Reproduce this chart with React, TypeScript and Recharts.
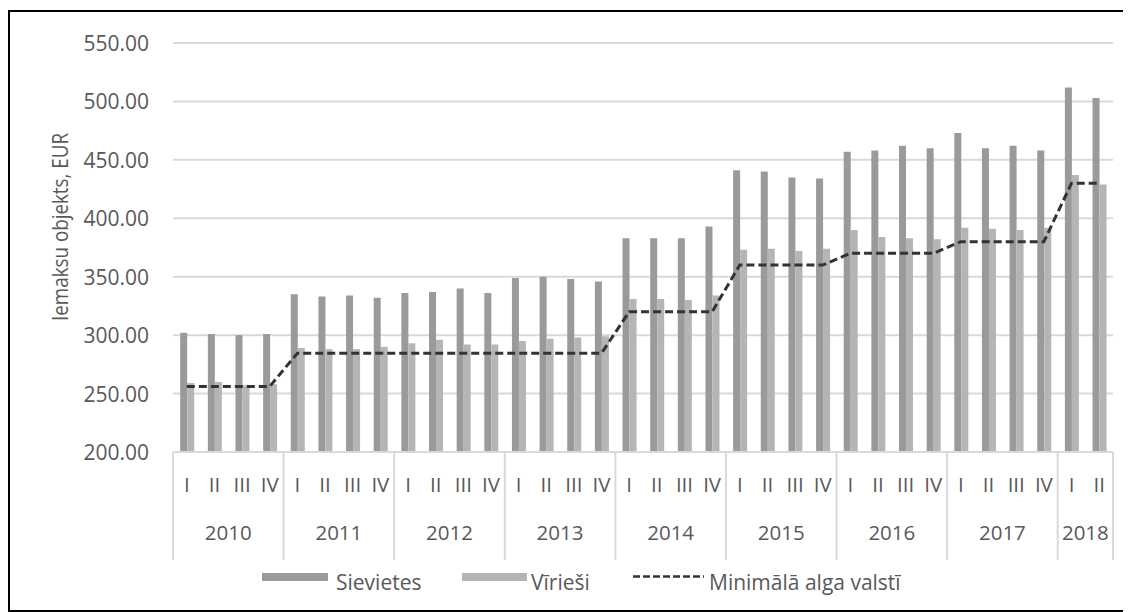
import React from 'react';
import { ComposedChart, Bar, Line, XAxis, YAxis, CartesianGrid, Legend } from 'recharts';

const years = ['2010', '2011', '2012', '2013', '2014', '2015', '2016', '2017', '2018'];
const quartersPerYear = [4, 4, 4, 4, 4, 4, 4, 4, 2];
const quarterLabels = ['I', 'II', 'III', 'IV'];

const sievietes = [
  302, 301, 300, 301,
  335, 333, 334, 332,
  336, 337, 340, 336,
  349, 350, 348, 346,
  383, 383, 383, 393,
  441, 440, 435, 434,
  457, 458, 462, 460,
  473, 460, 462, 458,
  512, 503,
];
const viriesi = [
  259, 260, 257, 258,
  289, 288, 288, 290,
  293, 296, 292, 292,
  295, 297, 298, 299,
  331, 331, 330, 334,
  373, 374, 372, 374,
  390, 384, 383, 382,
  392, 391, 390, 392,
  437, 429,
];
const minAlga = [
  256.12, 256.12, 256.12, 256.12,
  284.57, 284.57, 284.57, 284.57,
  284.57, 284.57, 284.57, 284.57,
  284.57, 284.57, 284.57, 284.57,
  320, 320, 320, 320,
  360, 360, 360, 360,
  370, 370, 370, 370,
  380, 380, 380, 380,
  430, 430,
];
const yTicks = [200, 250, 300, 350, 400, 450, 500, 550];

const categories: { year: string; quarter: string; pos: number; groupSize: number }[] = [];
years.forEach((y, yi) => {
  for (let q = 0; q < quartersPerYear[yi]; q++) {
    categories.push({ year: y, quarter: quarterLabels[q], pos: q, groupSize: quartersPerYear[yi] });
  }
});

const data = categories.map((c, i) => ({
  name: c.year + ' ' + c.quarter,
  sievietes: sievietes[i],
  viriesi: viriesi[i],
  minAlga: minAlga[i],
}));

const W = 1131;
const H = 612;
const PLOT_LEFT = 173;
const PLOT_RIGHT = 1113;
const PLOT_TOP = 43;
const PLOT_BOTTOM = 452;
const BAND = (PLOT_RIGHT - PLOT_LEFT) / data.length;
const FONT = '"Open Sans", sans-serif';
const TEXT = '#595959';
const GRID = '#d9d9d9';
const DARK = '#9a9a9a';
const LIGHT = '#b5b5b5';

const XTick = (props: any) => {
  const { x, payload } = props;
  const i = payload.index;
  const c = categories[i];
  const items: React.ReactNode[] = [];
  items.push(
    <text key="q" x={x} y={484} textAnchor="middle" dominantBaseline="central" fill={TEXT} fontSize={20.5} fontFamily={FONT}>
      {c.quarter}
    </text>
  );
  if (c.pos === 0) {
    const left = x - BAND / 2;
    items.push(<line key="l" x1={left} x2={left} y1={PLOT_BOTTOM} y2={560} stroke={GRID} strokeWidth={2} />);
    items.push(
      <text key="y" x={left + (c.groupSize * BAND) / 2} y={532} textAnchor="middle" dominantBaseline="central" fill={TEXT} fontSize={20.5} fontFamily={FONT}>
        {c.year}
      </text>
    );
  }
  if (i === categories.length - 1) {
    const right = x + BAND / 2;
    items.push(<line key="r" x1={right} x2={right} y1={PLOT_BOTTOM} y2={560} stroke={GRID} strokeWidth={2} />);
  }
  return <g>{items}</g>;
};

const YTick = (props: any) => {
  const { y, payload } = props;
  return (
    <text x={149} y={y} textAnchor="end" dominantBaseline="central" fill={TEXT} fontSize={21} fontFamily={FONT}>
      {Number(payload.value).toFixed(2)}
    </text>
  );
};

const LegendContent = () => (
  <div style={{ position: 'relative', height: 40, fontFamily: FONT, fontSize: 21, color: TEXT }}>
    <div style={{ position: 'absolute', left: 262, top: 13, width: 66, height: 8, background: DARK }} />
    <div style={{ position: 'absolute', left: 336, top: 2, lineHeight: '40px', whiteSpace: 'nowrap' }}>Sievietes</div>
    <div style={{ position: 'absolute', left: 462, top: 13, width: 65, height: 8, background: LIGHT }} />
    <div style={{ position: 'absolute', left: 531, top: 2, lineHeight: '40px', whiteSpace: 'nowrap' }}>Vīrieši</div>
    <svg style={{ position: 'absolute', left: 632, top: 0 }} width={74} height={40}>
      <line x1={1} x2={72} y1={16.5} y2={16.5} stroke="#333333" strokeWidth={2.5} strokeDasharray="7 3" />
    </svg>
    <div style={{ position: 'absolute', left: 709, top: 2, lineHeight: '40px', whiteSpace: 'nowrap' }}>Minimālā alga valstī</div>
  </div>
);

export default function App() {
  return (
    <div style={{ position: 'relative', left: -8, top: -8, width: W, height: H, background: '#fff' }}>
      <div
        style={{
          position: 'absolute',
          left: 8,
          top: 10,
          width: W - 8,
          height: H - 10,
          border: '2px solid #000',
          boxSizing: 'border-box',
        }}
      />
      <ComposedChart
        width={W}
        height={H}
        data={data}
        margin={{ top: PLOT_TOP, right: W - PLOT_RIGHT, left: 0, bottom: 12 }}
        barCategoryGap="26%"
        barGap={0}
        style={{ position: 'absolute', left: 0, top: 0 }}
      >
        <CartesianGrid vertical={false} stroke={GRID} strokeWidth={2} />
        <XAxis
          dataKey="name"
          interval={0}
          height={108}
          tick={<XTick />}
          tickLine={false}
          axisLine={{ stroke: GRID, strokeWidth: 2 }}
        />
        <YAxis
          width={PLOT_LEFT}
          domain={[200, 550]}
          ticks={yTicks}
          axisLine={false}
          tickLine={false}
          tick={<YTick />}
          label={{
            content: () => (
              <text
                x={60}
                y={227}
                transform="rotate(-90 60 227)"
                textAnchor="middle"
                dominantBaseline="central"
                fill={TEXT}
                fontSize={21}
                fontFamily={FONT}
                textLength={188}
                lengthAdjust="spacingAndGlyphs"
              >
                Iemaksu objekts, EUR
              </text>
            ),
          }}
        />
        <Legend verticalAlign="bottom" height={40} content={<LegendContent />} wrapperStyle={{ left: 0, width: W }} />
        <Bar dataKey="sievietes" name="Sievietes" fill={DARK} isAnimationActive={false} />
        <Bar dataKey="viriesi" name="Vīrieši" fill={LIGHT} isAnimationActive={false} />
        <Line
          dataKey="minAlga"
          name="Minimālā alga valstī"
          type="linear"
          stroke="#333333"
          strokeWidth={3}
          strokeDasharray="8 4"
          dot={false}
          activeDot={false}
          isAnimationActive={false}
        />
      </ComposedChart>
    </div>
  );
}
